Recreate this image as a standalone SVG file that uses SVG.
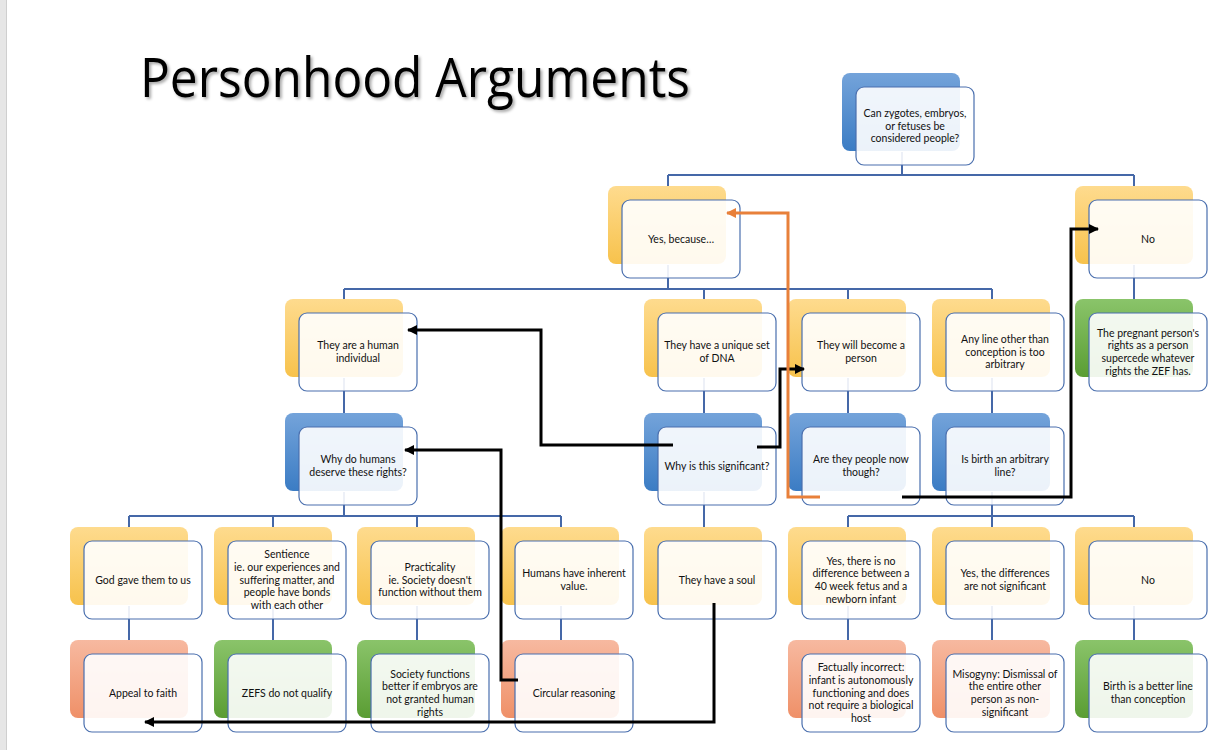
<svg xmlns="http://www.w3.org/2000/svg" width="1232" height="750" viewBox="0 0 1232 750">
<defs>
  <linearGradient id="gY" x1="0" y1="0" x2="0" y2="1"><stop offset="0" stop-color="#fedb8e"/><stop offset="1" stop-color="#f7c24c"/></linearGradient>
  <linearGradient id="gB" x1="0" y1="0" x2="0" y2="1"><stop offset="0" stop-color="#74a3da"/><stop offset="1" stop-color="#3b7cc4"/></linearGradient>
  <linearGradient id="gG" x1="0" y1="0" x2="0" y2="1"><stop offset="0" stop-color="#8ac46a"/><stop offset="1" stop-color="#5a9d33"/></linearGradient>
  <linearGradient id="gR" x1="0" y1="0" x2="0" y2="1"><stop offset="0" stop-color="#f7b9a0"/><stop offset="1" stop-color="#ef9068"/></linearGradient>
  <marker id="ah" markerWidth="10" markerHeight="10" refX="9" refY="5" orient="auto" markerUnits="userSpaceOnUse"><path d="M0,0 L10,5 L0,10 z" fill="#000"/></marker>
  <marker id="ao" markerWidth="10" markerHeight="10" refX="9" refY="5" orient="auto" markerUnits="userSpaceOnUse"><path d="M0,0 L10,5 L0,10 z" fill="#e8803a"/></marker>
  <filter id="tsh" x="-5%" y="-20%" width="110%" height="140%"><feDropShadow dx="2" dy="2" stdDeviation="1.5" flood-color="#000" flood-opacity="0.35"/></filter>
</defs>
<style>
  .back{stroke:none}
  .y{fill:url(#gY)} .b{fill:url(#gB)} .g{fill:url(#gG)} .r{fill:url(#gR)}
  .front{fill:#ffffff;fill-opacity:0.9;stroke:#4a6fae;stroke-width:1.2}
  .t{font-family:Lato,"Open Sans","Liberation Sans",sans-serif;font-size:10.5px;fill:#111;text-anchor:middle}
  .conn{fill:none;stroke:#4568a8;stroke-width:2}
  .arr{fill:none;stroke:#000;stroke-width:3}
  .arro{fill:none;stroke:#e8803a;stroke-width:3}
</style>
<rect x="0" y="0" width="1232" height="750" fill="#ffffff"/>
<rect x="0" y="0" width="6" height="750" fill="#e6e6e6"/>
<line x1="6.5" y1="0" x2="6.5" y2="750" stroke="#cfcfcf" stroke-width="1"/>
<text x="140" y="97" font-family="'Open Sans','Liberation Sans',sans-serif" font-size="55" fill="#000" textLength="550" lengthAdjust="spacingAndGlyphs" filter="url(#tsh)">Personhood Arguments</text>

<g id="connectors">
  <path class="conn" d="M902,152 V175 M668,175 H1134 M668,175 V186 M1134,175 V186"/>
  <path class="conn" d="M668,265 V289 M344,289 H992 M344,289 V299 M704,289 V299 M848,289 V299 M992,289 V299"/>
  <path class="conn" d="M1134,265 V299"/>
  <path class="conn" d="M344,378 V413 M704,378 V413 M848,378 V413 M992,378 V413"/>
  <path class="conn" d="M344,492 V516 M129,516 H561 M129,516 V527 M273,516 V527 M417,516 V527 M561,516 V527"/>
  <path class="conn" d="M704,492 V527"/>
  <path class="conn" d="M992,492 V516 M848,516 H1134 M848,516 V527 M992,516 V527 M1134,516 V527"/>
  <path class="conn" d="M129,606 V640 M273,606 V640 M417,606 V640 M561,606 V640 M848,606 V640 M992,606 V640 M1134,606 V640"/>
</g>

<g id="n-top"><rect class="back b" x="842" y="73" width="118" height="78" rx="8"/><rect class="front" x="856" y="87" width="118" height="78" rx="8"/>
<text class="t" x="915" y="116.8"><tspan x="915">Can zygotes, embryos,</tspan><tspan x="915" dy="12.7">or fetuses be</tspan><tspan x="915" dy="12.7">considered people?</tspan></text></g>

<g id="n-yes"><rect class="back y" x="608" y="186" width="118" height="78" rx="8"/><rect class="front" x="622" y="200" width="118" height="78" rx="8"/>
<text class="t" x="681" y="242.5">Yes, because…</text></g>

<g id="n-no"><rect class="back y" x="1075" y="186" width="118" height="78" rx="8"/><rect class="front" x="1089" y="200" width="118" height="78" rx="8"/>
<text class="t" x="1148" y="242.5">No</text></g>

<g id="n-human"><rect class="back y" x="285" y="299" width="118" height="78" rx="8"/><rect class="front" x="299" y="313" width="118" height="78" rx="8"/>
<text class="t" y="349.2"><tspan x="358">They are a human</tspan><tspan x="358" dy="12.7">individual</tspan></text></g>

<g id="n-dna"><rect class="back y" x="644" y="299" width="118" height="78" rx="8"/><rect class="front" x="658" y="313" width="118" height="78" rx="8"/>
<text class="t" y="349.2"><tspan x="717">They have a unique set</tspan><tspan x="717" dy="12.7">of DNA</tspan></text></g>

<g id="n-become"><rect class="back y" x="788" y="299" width="118" height="78" rx="8"/><rect class="front" x="802" y="313" width="118" height="78" rx="8"/>
<text class="t" y="349.2"><tspan x="861">They will become a</tspan><tspan x="861" dy="12.7">person</tspan></text></g>

<g id="n-arbitrary"><rect class="back y" x="932" y="299" width="118" height="78" rx="8"/><rect class="front" x="946" y="313" width="118" height="78" rx="8"/>
<text class="t" y="342.8"><tspan x="1005">Any line other than</tspan><tspan x="1005" dy="12.7">conception is too</tspan><tspan x="1005" dy="12.7">arbitrary</tspan></text></g>

<g id="n-pregnant"><rect class="back g" x="1075" y="299" width="118" height="78" rx="8"/><rect class="front" x="1089" y="313" width="118" height="78" rx="8"/>
<text class="t" y="336.5"><tspan x="1148">The pregnant person's</tspan><tspan x="1148" dy="12.7">rights as a person</tspan><tspan x="1148" dy="12.7">supercede whatever</tspan><tspan x="1148" dy="12.7">rights the ZEF has.</tspan></text></g>

<g id="n-whyhumans"><rect class="back b" x="285" y="413" width="118" height="78" rx="8"/><rect class="front" x="299" y="427" width="118" height="78" rx="8"/>
<text class="t" y="463.2"><tspan x="358">Why do humans</tspan><tspan x="358" dy="12.7">deserve these rights?</tspan></text></g>

<g id="n-whysig"><rect class="back b" x="644" y="413" width="118" height="78" rx="8"/><rect class="front" x="658" y="427" width="118" height="78" rx="8"/>
<text class="t" x="717" y="469.5">Why is this significant?</text></g>

<g id="n-peoplenow"><rect class="back b" x="788" y="413" width="118" height="78" rx="8"/><rect class="front" x="802" y="427" width="118" height="78" rx="8"/>
<text class="t" y="463.2"><tspan x="861">Are they people now</tspan><tspan x="861" dy="12.7">though?</tspan></text></g>

<g id="n-birth"><rect class="back b" x="932" y="413" width="118" height="78" rx="8"/><rect class="front" x="946" y="427" width="118" height="78" rx="8"/>
<text class="t" y="463.2"><tspan x="1005">Is birth an arbitrary</tspan><tspan x="1005" dy="12.7">line?</tspan></text></g>

<g id="n-god"><rect class="back y" x="70" y="527" width="118" height="78" rx="8"/><rect class="front" x="84" y="541" width="118" height="78" rx="8"/>
<text class="t" x="143" y="583.5">God gave them to us</text></g>

<g id="n-sentience"><rect class="back y" x="214" y="527" width="118" height="78" rx="8"/><rect class="front" x="228" y="541" width="118" height="78" rx="8"/>
<text class="t" y="558.1"><tspan x="287">Sentience</tspan><tspan x="287" dy="12.7">ie. our experiences and</tspan><tspan x="287" dy="12.7">suffering matter, and</tspan><tspan x="287" dy="12.7">people have bonds</tspan><tspan x="287" dy="12.7">with each other</tspan></text></g>

<g id="n-practicality"><rect class="back y" x="357" y="527" width="118" height="78" rx="8"/><rect class="front" x="371" y="541" width="118" height="78" rx="8"/>
<text class="t" y="570.8"><tspan x="430">Practicality</tspan><tspan x="430" dy="12.7">ie. Society doesn't</tspan><tspan x="430" dy="12.7">function without them</tspan></text></g>

<g id="n-inherent"><rect class="back y" x="501" y="527" width="118" height="78" rx="8"/><rect class="front" x="515" y="541" width="118" height="78" rx="8"/>
<text class="t" y="577.2"><tspan x="574">Humans have inherent</tspan><tspan x="574" dy="12.7">value.</tspan></text></g>

<g id="n-soul"><rect class="back y" x="644" y="527" width="118" height="78" rx="8"/><rect class="front" x="658" y="541" width="118" height="78" rx="8"/>
<text class="t" x="717" y="583.5">They have a soul</text></g>

<g id="n-nodiff"><rect class="back y" x="788" y="527" width="118" height="78" rx="8"/><rect class="front" x="802" y="541" width="118" height="78" rx="8"/>
<text class="t" y="564.5"><tspan x="861">Yes, there is no</tspan><tspan x="861" dy="12.7">difference between a</tspan><tspan x="861" dy="12.7">40 week fetus and a</tspan><tspan x="861" dy="12.7">newborn infant</tspan></text></g>

<g id="n-notsig"><rect class="back y" x="932" y="527" width="118" height="78" rx="8"/><rect class="front" x="946" y="541" width="118" height="78" rx="8"/>
<text class="t" y="577.2"><tspan x="1005">Yes, the differences</tspan><tspan x="1005" dy="12.7">are not significant</tspan></text></g>

<g id="n-no2"><rect class="back y" x="1075" y="527" width="118" height="78" rx="8"/><rect class="front" x="1089" y="541" width="118" height="78" rx="8"/>
<text class="t" x="1148" y="583.5">No</text></g>

<g id="n-faith"><rect class="back r" x="70" y="640" width="118" height="78" rx="8"/><rect class="front" x="84" y="654" width="118" height="78" rx="8"/>
<text class="t" x="143" y="696.5">Appeal to faith</text></g>

<g id="n-zefs"><rect class="back g" x="214" y="640" width="118" height="78" rx="8"/><rect class="front" x="228" y="654" width="118" height="78" rx="8"/>
<text class="t" x="287" y="696.5">ZEFS do not qualify</text></g>

<g id="n-society"><rect class="back g" x="357" y="640" width="118" height="78" rx="8"/><rect class="front" x="371" y="654" width="118" height="78" rx="8"/>
<text class="t" y="677.5"><tspan x="430">Society functions</tspan><tspan x="430" dy="12.7">better if embryos are</tspan><tspan x="430" dy="12.7">not granted human</tspan><tspan x="430" dy="12.7">rights</tspan></text></g>

<g id="n-circular"><rect class="back r" x="501" y="640" width="118" height="78" rx="8"/><rect class="front" x="515" y="654" width="118" height="78" rx="8"/>
<text class="t" x="574" y="696.5">Circular reasoning</text></g>

<g id="n-factual"><rect class="back r" x="788" y="640" width="118" height="78" rx="8"/><rect class="front" x="802" y="654" width="118" height="78" rx="8"/>
<text class="t" y="671.1"><tspan x="861">Factually incorrect:</tspan><tspan x="861" dy="12.7">infant is autonomously</tspan><tspan x="861" dy="12.7">functioning and does</tspan><tspan x="861" dy="12.7">not require a biological</tspan><tspan x="861" dy="12.7">host</tspan></text></g>

<g id="n-misogyny"><rect class="back r" x="932" y="640" width="118" height="78" rx="8"/><rect class="front" x="946" y="654" width="118" height="78" rx="8"/>
<text class="t" y="677.5"><tspan x="1005">Misogyny: Dismissal of</tspan><tspan x="1005" dy="12.7">the entire other</tspan><tspan x="1005" dy="12.7">person as non-</tspan><tspan x="1005" dy="12.7">significant</tspan></text></g>

<g id="n-birthbetter"><rect class="back g" x="1075" y="640" width="118" height="78" rx="8"/><rect class="front" x="1089" y="654" width="118" height="78" rx="8"/>
<text class="t" y="690.2"><tspan x="1148">Birth is a better line</tspan><tspan x="1148" dy="12.7">than conception</tspan></text></g>

<g id="arrows">
  <path class="arr" d="M673,445 H541 V330 H408" marker-end="url(#ah)"/>
  <path class="arr" d="M757,447 H780 V369 H804" marker-end="url(#ah)"/>
  <path class="arr" d="M902,497 H1071 V229 H1098" marker-end="url(#ah)"/>
  <path class="arr" d="M518,680 H501 V450 H405" marker-end="url(#ah)"/>
  <path class="arr" d="M714,603 V722 H145" marker-end="url(#ah)"/>
  <path class="arro" d="M820,497 H788 V213 H727" marker-end="url(#ao)"/>
</g>
</svg>
